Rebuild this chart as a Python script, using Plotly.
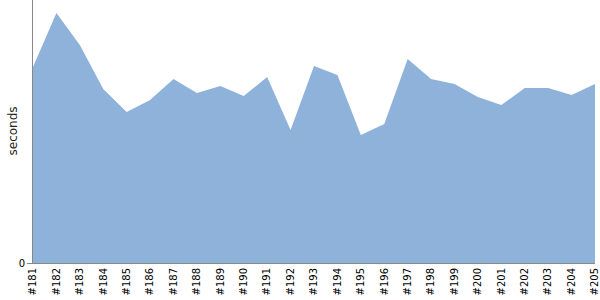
import plotly.graph_objects as go

builds = ["#181", "#182", "#183", "#184", "#185", "#186", "#187", "#188", "#189", "#190",
          "#191", "#192", "#193", "#194", "#195", "#196", "#197", "#198", "#199", "#200",
          "#201", "#202", "#203", "#204", "#205"]
seconds = [196, 250, 218, 174, 151, 163, 184, 170, 177, 167,
           186, 133, 197, 188, 128, 139, 204, 184, 179, 166,
           158, 175, 175, 168, 179]
y_ticks = [0]
y_tick_labels = ["0"]

FONT = "DejaVu Sans, Verdana, sans-serif"

fig = go.Figure()
fig.add_trace(go.Scatter(
    x=builds, y=seconds, mode="lines", fill="tozeroy",
    line=dict(width=0, color="#8fb2da"), fillcolor="#8fb2da",
    hoverinfo="x+y", showlegend=False,
))

plot_w = 600 - 33 - 5
fig.add_annotation(
    text="seconds", textangle=-90, showarrow=False,
    xref="paper", yref="paper", x=(12 - 33) / plot_w, y=0.5,
    xanchor="center", yanchor="middle",
    font=dict(family=FONT, size=12, color="#222222"),
)

fig.update_layout(
    width=600, height=300,
    margin=dict(l=33, r=5, t=0, b=37),
    paper_bgcolor="white", plot_bgcolor="white",
    font=dict(family=FONT, size=10, color="black"),
    xaxis=dict(
        type="category", range=[0, len(builds) - 1],
        tickangle=-90, showgrid=False, zeroline=False,
        showline=True, linecolor="#888888", linewidth=1,
        ticks="", tickfont=dict(family=FONT, size=10, color="black"),
    ),
    yaxis=dict(
        range=[0, 263], tickvals=y_ticks, ticktext=y_tick_labels,
        showgrid=False, zeroline=False, showline=True,
        linecolor="#888888", linewidth=1,
        ticks="outside", ticklen=5, tickcolor="#888888",
        tickfont=dict(family=FONT, size=10, color="black"),
    ),
)

fig.write_html("out.html")
